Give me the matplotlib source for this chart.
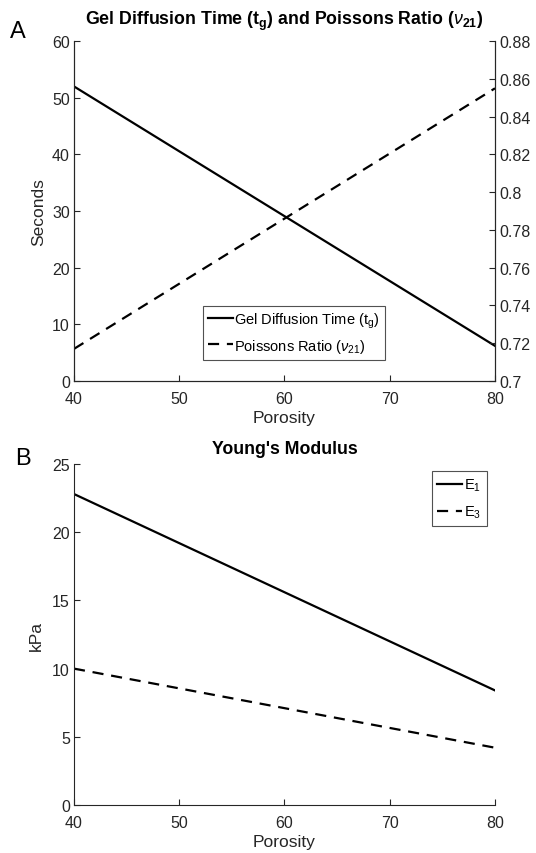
import matplotlib
matplotlib.use("Agg")
import matplotlib.pyplot as plt
import numpy as np

# values
porosity = [40, 60, 80]
gel_time = [52.0, 29.1, 6.2]          # seconds
poisson = [0.717, 0.786, 0.855]       # nu_21
E1 = [22.8, 15.6, 8.4]                # kPa
E3 = [10.0, 7.1, 4.2]                 # kPa

xticks = [40, 50, 60, 70, 80]
left_ticks = [0, 10, 20, 30, 40, 50, 60]
right_ticks = [0.7, 0.72, 0.74, 0.76, 0.78, 0.8, 0.82, 0.84, 0.86, 0.88]
bottom_ticks = [0, 5, 10, 15, 20, 25]

plt.rcParams['font.family'] = ['Liberation Sans', 'DejaVu Sans']
plt.rcParams['mathtext.fontset'] = 'custom'
plt.rcParams['mathtext.rm'] = 'Liberation Sans'
plt.rcParams['mathtext.it'] = 'Liberation Sans:italic'
plt.rcParams['mathtext.bf'] = 'Liberation Sans:bold'

AX = '#262626'
DASH = (0, (5, 3.5))
TICK_FS = 11.5
LABEL_FS = 12.5
TITLE_FS = 12.8
LEG_FS = 10.5

fig = plt.figure(figsize=(5.36, 8.54), dpi=100)


def style(ax, right=False):
    ax.spines['top'].set_visible(False)
    ax.spines['right'].set_visible(right)
    for s in ax.spines.values():
        s.set_color(AX)
        s.set_linewidth(0.8)
    ax.tick_params(direction='in', length=4, width=0.8, colors=AX,
                   labelsize=TICK_FS)
    ax.tick_params(axis='x', pad=7)
    ax.tick_params(axis='y', pad=3)


def frame(leg):
    leg.get_frame().set_edgecolor(AX)
    leg.get_frame().set_linewidth(0.8)


# ---- panel A ----
ax1 = fig.add_axes([0.138, 0.5527, 0.7855, 0.398])
l1, = ax1.plot(porosity, gel_time, color='black', lw=1.6)
ax1.set_xlim(40, 80)
ax1.set_ylim(0, 60)
ax1.set_xticks(xticks)
ax1.set_yticks(left_ticks)
ax1.set_xlabel('Porosity', fontsize=LABEL_FS, color=AX, labelpad=3)
ax1.set_ylabel('Seconds', fontsize=LABEL_FS, color=AX, labelpad=4)
ax1.set_title(r'Gel Diffusion Time (t$_\mathbf{g}$) and Poissons Ratio ($\nu_\mathbf{21}$)',
              fontsize=TITLE_FS, fontweight='bold', pad=12)
style(ax1, right=True)

ax2 = ax1.twinx()
l2, = ax2.plot(porosity, poisson, color='black', lw=1.6, linestyle=DASH)
ax2.set_ylim(0.7, 0.88)
ax2.set_yticks(right_ticks)
ax2.set_yticklabels(['%g' % t for t in right_ticks])
style(ax2, right=True)

leg = ax1.legend([l1, l2], [r'Gel Diffusion Time (t$_\mathrm{g}$)',
                            r'Poissons Ratio ($\nu_\mathrm{21}$)'],
                 loc='upper left', bbox_to_anchor=(0.306, 0.222),
                 fontsize=LEG_FS, frameon=True, fancybox=False,
                 handlelength=1.7, handletextpad=0.1, borderpad=0.35,
                 labelspacing=0.45, borderaxespad=0)
frame(leg)

fig.text(0.018, 0.955, 'A', fontsize=17, color='black')

# ---- panel B ----
ax3 = fig.add_axes([0.138, 0.0562, 0.7855, 0.3993])
l3, = ax3.plot(porosity, E1, color='black', lw=1.6)
l4, = ax3.plot(porosity, E3, color='black', lw=1.6, linestyle=DASH)
ax3.set_xlim(40, 80)
ax3.set_ylim(0, 25)
ax3.set_xticks(xticks)
ax3.set_yticks(bottom_ticks)
ax3.set_xlabel('Porosity', fontsize=LABEL_FS, color=AX, labelpad=3)
ax3.set_ylabel('kPa', fontsize=LABEL_FS, color=AX, labelpad=6)
ax3.set_title("Young's Modulus", fontsize=TITLE_FS, fontweight='bold', pad=8)
style(ax3)

leg2 = ax3.legend([l3, l4], [r'E$_\mathrm{1}$', r'E$_\mathrm{3}$'],
                  loc='upper right', bbox_to_anchor=(0.98, 0.98),
                  fontsize=LEG_FS, frameon=True, fancybox=False,
                  handlelength=1.7, handletextpad=0.1, borderpad=0.4,
                  labelspacing=0.75, borderaxespad=0)
frame(leg2)

fig.text(0.028, 0.455, 'B', fontsize=17, color='black')

fig.savefig('out.png', dpi=100)
